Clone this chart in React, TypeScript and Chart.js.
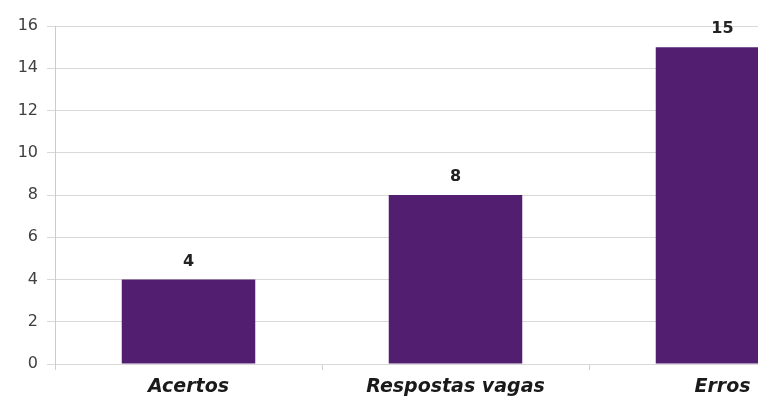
import React, { useEffect, useRef } from "react";
import { Chart, registerables } from "chart.js";

Chart.register(...registerables);

const categories = ["Acertos", "Respostas vagas", "Erros"];
const values = [4, 8, 15];
const yTicks = [0, 2, 4, 6, 8, 10, 12, 14, 16];

const valueLabels = {
  id: "valueLabels",
  afterDatasetsDraw(chart: any) {
    const ctx = chart.ctx;
    const meta = chart.getDatasetMeta(0);
    ctx.save();
    ctx.font = "bold 16px 'DejaVu Sans', sans-serif";
    ctx.fillStyle = "#222222";
    ctx.textAlign = "center";
    ctx.textBaseline = "middle";
    meta.data.forEach((bar: any, i: number) => {
      ctx.fillText(String(values[i]), bar.x, bar.y - 18);
    });
    ctx.restore();
  },
};

export default function App() {
  const ref = useRef<HTMLCanvasElement>(null);
  useEffect(() => {
    if (!ref.current) return;
    const chart = new Chart(ref.current, {
      type: "bar",
      data: {
        labels: categories,
        datasets: [
          {
            data: values,
            backgroundColor: "#521f70",
            categoryPercentage: 1,
            barPercentage: 0.5,
          },
        ],
      },
      options: {
        responsive: false,
        animation: false,
        layout: { padding: { top: 26, left: 0, right: 0, bottom: 0 } },
        plugins: { legend: { display: false }, tooltip: { enabled: false } },
        scales: {
          x: {
            grid: {
              display: true,
              drawOnChartArea: false,
              offset: true,
              tickLength: 6,
              color: "#cfcfcf",
            },
            border: { display: false },
            ticks: {
              color: "#1a1a1a",
              padding: 6,
              font: { family: "'DejaVu Sans', sans-serif", size: 19, style: "italic", weight: "bold" },
            },
            afterFit(scale: any) {
              scale.height = 32;
            },
          },
          y: {
            min: 0,
            max: 16,
            afterBuildTicks(scale: any) {
              scale.ticks = yTicks.map((v) => ({ value: v }));
            },
            grid: { color: "#d9d9d9", tickLength: 8 },
            border: { color: "#cccccc" },
            ticks: {
              color: "#404040",
              padding: 9,
              font: { family: "'DejaVu Sans', sans-serif", size: 16 },
            },
            afterFit(scale: any) {
              scale.width = 55;
            },
          },
        },
      },
      plugins: [valueLabels],
    });
    return () => chart.destroy();
  }, []);
  return (
    <div style={{ position: "fixed", left: 0, top: 0, width: 758, height: 396, overflow: "hidden", background: "#fff" }}>
      <canvas ref={ref} width={856} height={396} style={{ position: "absolute", left: 0, top: 0 }} />
    </div>
  );
}
